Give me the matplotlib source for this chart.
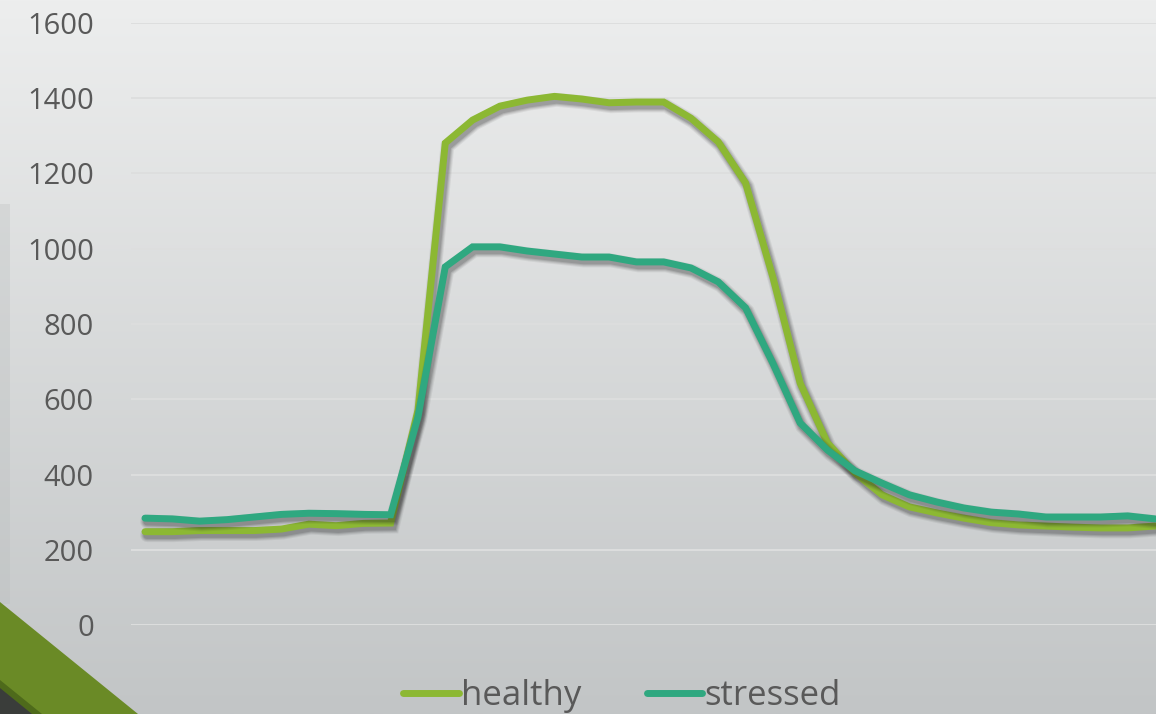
import numpy as np
import matplotlib.pyplot as plt
import matplotlib.patheffects as pe
from matplotlib.patches import Polygon, Rectangle

# Series values (one reading per time step)
healthy = [248, 248, 251, 251, 251, 255, 268, 264, 270, 271,
           571, 1281, 1342, 1379, 1395, 1405, 1398, 1388, 1390, 1390,
           1347, 1284, 1175, 925, 643, 484, 405, 346, 314, 298,
           284, 272, 266, 263, 260, 258, 258, 263]
stressed = [284, 282, 276, 280, 287, 294, 297, 296, 294, 293,
            553, 952, 1005, 1005, 994, 986, 978, 978, 965, 965,
            949, 912, 843, 696, 537, 465, 410, 377, 346, 327,
            311, 300, 295, 287, 287, 287, 290, 282]
series_names = ["healthy", "stressed"]
series_colors = ["#8CB833", "#2FA880"]
y_ticks = [0, 200, 400, 600, 800, 1000, 1200, 1400, 1600]

W, H = 1156, 714
fig = plt.figure(figsize=(W / 100, H / 100), dpi=100)

# Slide background: soft vertical grey gradient
bg = fig.add_axes([0, 0, 1, 1], zorder=0)
grad = np.linspace(0, 1, 256).reshape(-1, 1)
top = np.array([237, 238, 238]) / 255
bottom = np.array([194, 197, 198]) / 255
img = top + (bottom - top) * grad[..., None]
bg.imshow(img, aspect="auto", extent=[0, W, H, 0])
bg.set_xlim(0, W)
bg.set_ylim(H, 0)
bg.axis("off")

# Decorative corner shapes
bg.add_patch(Rectangle((0, 204), 10, 400, color="#B9BDBD", alpha=0.3, lw=0))
bg.add_patch(Polygon([(0, 602), (138, 714), (0, 714)], closed=True, color="#6A8A26", lw=0))
bg.add_patch(Polygon([(0, 680), (42, 714), (0, 714)], closed=True, color="#4E6A1B", lw=0))
bg.add_patch(Polygon([(0, 688), (32, 714), (0, 714)], closed=True, color="#3A3D3A", lw=0))

# Plot area
left_px, right_px = 131.35, 1168.65
ax = fig.add_axes([left_px / W, 1 - 625 / H, (right_px - left_px) / W, 602 / H], zorder=1)
ax.patch.set_alpha(0)

x = np.arange(len(healthy))
# soft drop shadow: a few widening, faint offset strokes under the line
shadow = [pe.SimpleLineShadow(offset=(1.5, -2.5), shadow_color="#202020",
                              alpha=a, rho=1, linewidth=w)
          for w, a in [(10, 0.07), (8.5, 0.09), (7, 0.12), (5.5, 0.15)]]
shadow.append(pe.Normal())
lines = []
for vals, name, col in zip([healthy, stressed], series_names, series_colors):
    ln, = ax.plot(x, vals, color=col, lw=5, label=name,
                  solid_joinstyle="miter", solid_capstyle="round",
                  path_effects=shadow, zorder=3)
    lines.append(ln)

ax.set_xlim(-0.5, len(healthy) - 0.5)
ax.set_ylim(0, 1600)
ax.set_yticks(y_ticks)
ax.set_xticks([])
ax.grid(axis="y", color="#DDDEDE", lw=1.4, zorder=1)
ax.set_axisbelow(True)
for s in ax.spines.values():
    s.set_visible(False)
ax.tick_params(axis="y", length=0, pad=27, labelsize=21, labelcolor="#595959")
for lab in ax.get_yticklabels():
    lab.set_fontfamily("Open Sans")

leg = fig.legend(handles=lines, labels=series_names, loc="center",
                 bbox_to_anchor=(0.538, 0.025), ncol=2, frameon=False,
                 handlelength=1.6, handletextpad=0.05, columnspacing=1.9,
                 prop={"family": "Open Sans", "size": 25})
for t in leg.get_texts():
    t.set_color("#595959")
for h in leg.legend_handles:
    h.set_path_effects([])
    h.set_solid_capstyle("round")

fig.savefig("out.png", dpi=100)
